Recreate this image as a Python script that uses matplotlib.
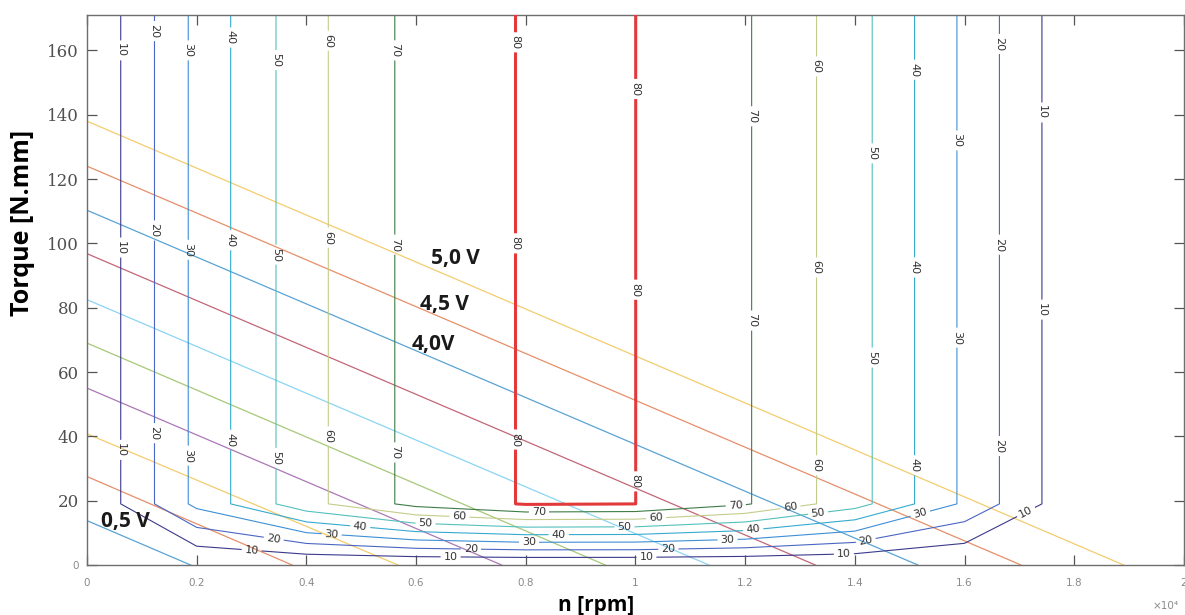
import numpy as np
import matplotlib
matplotlib.use("Agg")
import matplotlib.pyplot as plt

# efficiency map: speed grid (rpm), torque grid (N.mm), efficiency (%) above the knee
speed_rpm = [0, 2000, 4000, 6000, 8000, 10000, 12000, 14000, 16000, 18000, 20000]
torque_rows = [0, 19, 171]
eff_high_torque = [0, 32.5, 56.7, 73.2, 80.7, 80.02, 71.0, 54.1, 28.2, 2.4, 0]
eff_zero_torque = [0] * len(speed_rpm)

levels = [10, 20, 30, 40, 50, 60, 70]
level_colors = ['#3b3a8c', '#4a66c2', '#3d8fd6', '#36aad0', '#55c0bd', '#c4cc8a', '#3f7c46']
best_level = 80

# motor characteristic per supply voltage: stall torque (N.mm) and no-load speed (rpm)
voltage_labels = ['0,5 V', '1,0 V', '1,5 V', '2,0 V', '2,5 V', '3,0 V', '3,5 V', '4,0V', '4,5 V', '5,0 V']
stall_torque = [13.8, 27.5, 40.8, 55.0, 69.0, 82.5, 96.8, 110.3, 124.0, 138.0]
noload_speed = [1890, 3740, 5670, 7560, 9450, 11340, 13280, 15150, 17030, 18900]
voltage_colors = ['#0072bd', '#d95319', '#edb120', '#7e2f8e', '#77ac30',
                  '#4dbeee', '#a2142f', '#0072bd', '#d95319', '#edb120']
shown_voltages = {'0,5 V': (0.07, 13.4), '4,0V': (0.632, 68.5),
                  '4,5 V': (0.652, 81.0), '5,0 V': (0.672, 95.3)}

n = np.array(speed_rpm) / 1e4
Z = np.array([eff_zero_torque, eff_high_torque, eff_high_torque])

fig = plt.figure(figsize=(11.85, 6.15), dpi=100)
ax = fig.add_axes([0.0734, 0.0813, 0.9257, 0.8943])

for i, lab in enumerate(voltage_labels):
    ax.plot([0, noload_speed[i] / 1e4], [stall_torque[i], 0], color=voltage_colors[i],
            lw=0.9, alpha=0.65, zorder=1)

cs = ax.contour(n, torque_rows, Z, levels=levels, colors=level_colors, linewidths=0.8, zorder=2)
cs80 = ax.contour(n, torque_rows, Z, levels=[best_level], colors='#e23a3a', linewidths=2.2, zorder=3)

label_pos = [
    (0.0616, 160), (0.123, 166), (0.185, 160), (0.261, 164), (0.344, 157), (0.439, 163), (0.561, 160),
    (0.0616, 98.7), (0.123, 104), (0.185, 98), (0.261, 101), (0.344, 96.5), (0.439, 101.8), (0.561, 99.6),
    (0.0616, 35.8), (0.123, 41), (0.185, 34), (0.261, 38.9), (0.344, 33.3), (0.439, 40), (0.561, 35),
    (1.212, 139.5), (1.212, 76),
    (1.33, 155), (1.33, 92.5), (1.33, 31),
    (1.431, 128), (1.431, 64.5),
    (1.507, 154), (1.507, 92.5), (1.507, 31),
    (1.587, 132), (1.587, 70.7),
    (1.661, 162), (1.661, 99.6), (1.661, 37),
    (1.739, 140.7), (1.739, 79.4), (1.715, 15.5),
    (0.30, 4.2), (0.34, 7.6), (0.446, 9.2), (0.498, 11.6),
    (0.617, 11.8), (0.679, 15.0), (0.663, 2.5), (0.70, 5.0),
    (0.824, 16.4), (0.806, 6.9), (0.86, 9.0),
    (0.98, 11.4), (1.038, 13.8), (1.02, 2.3), (1.06, 4.5),
    (1.183, 18.2), (1.215, 10.5), (1.168, 7.3),
    (1.283, 17.6), (1.333, 16.0), (1.52, 15.5), (1.42, 7.6), (1.38, 3.5),
]
label_pos_80 = [(0.781, 162.5), (0.781, 100), (0.781, 39), (1.0, 148), (1.0, 85.6), (1.0, 26)]

ax.clabel(cs, manual=label_pos, inline=True, inline_spacing=3, fontsize=8, colors='#333333', fmt='%d')
ax.clabel(cs80, manual=label_pos_80, inline=True, inline_spacing=3, fontsize=8, colors='#333333', fmt='%d')

for lab, (x, y) in shown_voltages.items():
    ax.text(x, y, lab, fontsize=15, fontweight='bold', family='Open Sans',
            ha='center', va='center', color='#1a1a1a', zorder=5)

ax.set_xlim(0, 2)
ax.set_ylim(0, 171)
ax.set_xticks(np.arange(0, 2.01, 0.2))
ax.set_xticklabels(['0', '0.2', '0.4', '0.6', '0.8', '1', '1.2', '1.4', '1.6', '1.8', '2'])
ax.set_yticks(range(0, 161, 20))
ax.tick_params(direction='in', length=7, width=0.9, color='#555555',
               top=True, right=True, labelsize=7.5, labelcolor='#8a8a8a', pad=6)
ax.tick_params(axis='x', pad=9)
for t in ax.get_yticklabels()[1:]:
    t.set_family('DejaVu Serif')
    t.set_fontsize(12)
    t.set_color('#505050')
for s in ax.spines.values():
    s.set_color('#6e6e6e')
    s.set_linewidth(1.0)

ax.set_xlabel('n [rpm]', fontsize=15, fontweight='bold', family='Open Sans', va='center')
ax.xaxis.set_label_coords(0.464, -0.073)
ax.set_ylabel('Torque [N.mm]', fontsize=18, fontweight='bold', family='Open Sans', va='center')
ax.yaxis.set_label_coords(-0.059, 0.622)
ax.text(0.995, -0.075, '×10⁴', transform=ax.transAxes, fontsize=7.5, color='#8a8a8a',
        ha='right', va='center')

fig.savefig('out.png', dpi=100)
